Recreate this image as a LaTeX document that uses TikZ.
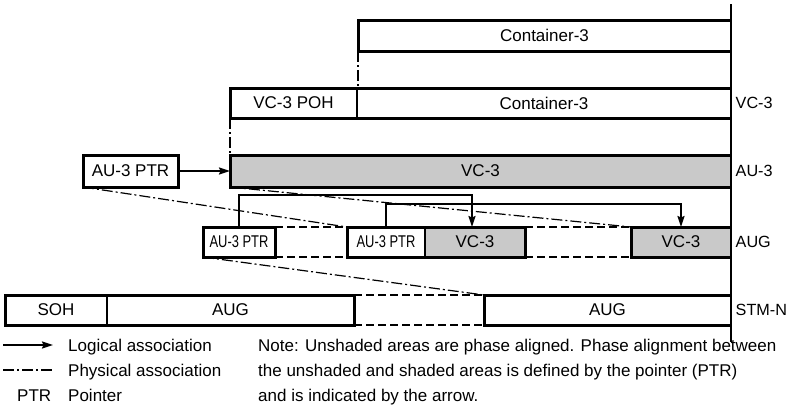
\documentclass[tikz,border=0pt]{standalone}
\usepackage{fontspec}
\usepackage{graphicx}
\setmainfont{Liberation Sans}
\usetikzlibrary{arrows.meta}
\begin{document}
\begin{tikzpicture}[x=1pt,y=-1pt,
  font=\fontsize{17}{19}\selectfont,
  cell/.style={inner sep=0pt, outer sep=0pt, anchor=north west},
  shaded/.style={cell, fill=gray!42},
  heavy/.style={line width=3pt, line join=miter},
  divider/.style={line width=1.3pt},
  logical/.style={line width=1.8pt, -{Stealth[length=11pt,width=7pt,inset=1.5pt]}},
  physical/.style={line width=1.2pt, dash pattern=on 11pt off 3pt on 2pt off 3pt},
  gap/.style={line width=1.3pt, dash pattern=on 8pt off 4pt},
  lbl/.style={inner sep=0pt, anchor=west, font=\fontsize{16.2}{18}\selectfont},
  txt/.style={inner sep=0pt, anchor=base west}]
\useasboundingbox (0,0) rectangle (788,407);

% ---- row 1: Container-3
\node[cell, minimum width=373pt, minimum height=31pt] (c3top) at (358,20) {Container-3};

% ---- row 2: VC-3
\node[cell, minimum width=127pt, minimum height=30pt] (poh) at (230,88) {VC-3 POH};
\node[cell, minimum width=374pt, minimum height=30pt] (c3) at (357,88) {Container-3};

% ---- row 3: AU-3
\node[cell, minimum width=95pt, minimum height=32pt] (ptr) at (83,155) {AU-3 PTR};
\node[shaded, minimum width=501pt, minimum height=32pt] (vc3a) at (230,155) {VC-3};

% ---- row 4: AUG
\node[cell, minimum width=72pt, minimum height=30pt] (ptr1) at (203,227) {\scalebox{0.76}[1]{AU-3 PTR}};
\node[cell, minimum width=78pt, minimum height=30pt] (ptr2) at (347,227) {\scalebox{0.76}[1]{AU-3 PTR}};
\node[shaded, minimum width=100pt, minimum height=30pt] (vc3b) at (425,227) {VC-3};
\node[shaded, minimum width=100pt, minimum height=30pt] (vc3c) at (631,227) {VC-3};

% ---- row 5: STM-N
\node[cell, minimum width=102pt, minimum height=30pt] (soh) at (5,295) {SOH};
\node[cell, minimum width=247pt, minimum height=30pt] (aug1) at (107,295) {AUG};
\node[cell, minimum width=247pt, minimum height=30pt] (aug2) at (484,295) {AUG};

% ---- outlines (boxes meeting the reference line stay open on the right)
\draw[heavy] (c3top.north east) -- (c3top.north west) -- (c3top.south west) -- (c3top.south east);
\draw[heavy] (c3.north east) -- (poh.north west) -- (poh.south west) -- (c3.south east);
\draw[divider] (poh.north east) -- (poh.south east);
\draw[heavy] (ptr.north west) rectangle (ptr.south east);
\draw[heavy] (vc3a.north east) -- (vc3a.north west) -- (vc3a.south west) -- (vc3a.south east);
\draw[heavy] (ptr1.north west) rectangle (ptr1.south east);
\draw[heavy] (ptr2.north west) rectangle (vc3b.south east);
\draw[divider] (ptr2.north east) -- (ptr2.south east);
\draw[heavy] (vc3c.north east) -- (vc3c.north west) -- (vc3c.south west) -- (vc3c.south east);
\draw[heavy] (soh.north west) rectangle (aug1.south east);
\draw[divider] (soh.north east) -- (soh.south east);
\draw[heavy] (aug2.north east) -- (aug2.north west) -- (aug2.south west) -- (aug2.south east);

% ---- reference line on the right
\coordinate (rtop) at (731,4);
\coordinate (rbot) at (731,342);
\draw[line width=1.4pt] (rtop) -- (rbot);

% ---- layer labels
\node[lbl] (lvc)  at (735.5,103) {VC-3};
\node[lbl] (lau)  at (735.5,171) {AU-3};
\node[lbl] (laug) at (735.5,242) {AUG};
\node[lbl] (lstm) at (735.5,310) {STM-N};

% ---- physical associations
\draw[physical] (c3top.south west) -- (c3top.south west |- c3.north);
\draw[physical] (poh.south west) -- (vc3a.north west);
\draw[physical] (ptr.south west) -- (ptr2.north west);
\draw[physical] (vc3a.south west) -- (vc3c.north west);
\draw[physical] (ptr1.south west) -- (aug2.north west);

% ---- gaps between interleaved parts
\draw[gap] (ptr1.north east) -- (ptr2.north west);
\draw[gap] (ptr1.south east) -- (ptr2.south west);
\draw[gap] (vc3b.north east) -- (vc3c.north west);
\draw[gap] (vc3b.south east) -- (vc3c.south west);
\draw[gap] (aug1.north east) -- (aug2.north west);
\draw[gap] (aug1.south east) -- (aug2.south west);

% ---- logical associations (pointers)
\draw[logical] (ptr.east) -- (vc3a.west);
\draw[logical] (ptr1.north) -- ++(0,-32) -| ([xshift=-3pt]vc3b.north);
\draw[logical] (ptr2.north) -- ++(0,-23) -| (vc3c.north);

% ---- legend
\coordinate (la1) at (3,345);
\coordinate (la2) at (53,345);
\draw[logical] (la1) -- (la2);
\coordinate (lp1) at (3,370);
\coordinate (lp2) at (53,370);
\draw[physical] (lp1) -- (lp2);
\node[txt] (leg1) at (68,351) {Logical association};
\node[txt] (leg2) at (68,376) {Physical association};
\node[txt] (legp) at (17,401) {PTR};
\node[txt] (leg3) at (68,401) {Pointer};

% ---- note
\node[txt] (note1) at (258,351) {Note: Unshaded areas are phase aligned. Phase alignment between};
\node[txt] (note2) at (258,376) {the unshaded and shaded areas is defined by the pointer (PTR)};
\node[txt] (note3) at (258,401) {and is indicated by the arrow.};
\end{tikzpicture}
\end{document}
